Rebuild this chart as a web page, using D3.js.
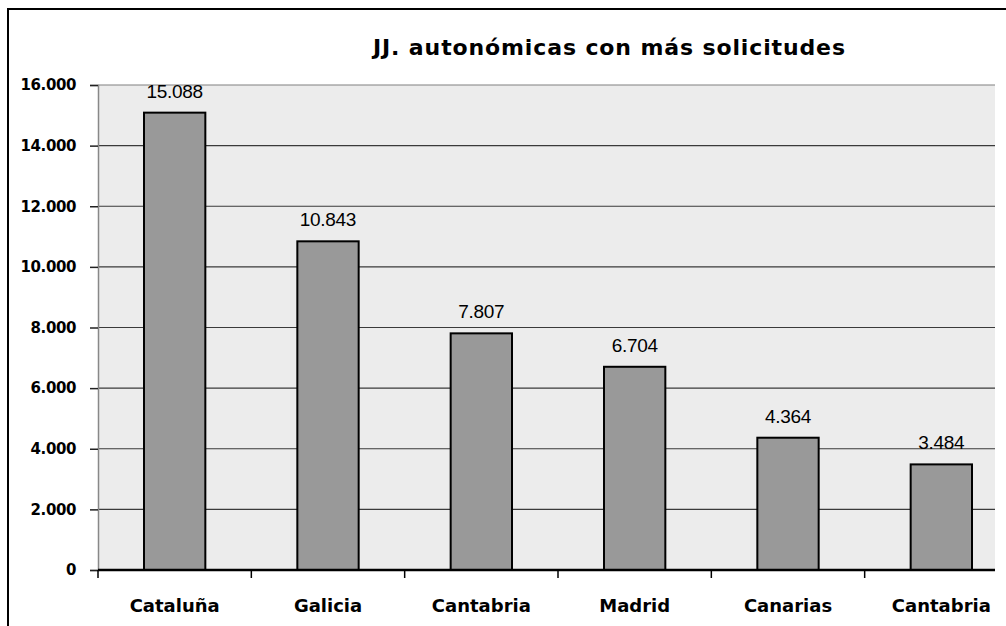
<!DOCTYPE html>
<html>
<head>
<meta charset="utf-8">
<script src="https://cdn.jsdelivr.net/npm/d3@7"></script>
<style>
body { margin: 0; background: #fff; }
svg { display: block; font-family: "DejaVu Sans", Arial, sans-serif; }
</style>
</head>
<body>
<div id="chart"></div>
<script>
var categories = ["Cataluña", "Galicia", "Cantabria", "Madrid", "Canarias", "Cantabria "]
var values = [15088, 10843, 7807, 6704, 4364, 3484]
var yTicks = [0, 2000, 4000, 6000, 8000, 10000, 12000, 14000, 16000]
var title = "JJ. autonómicas con más solicitudes"

var w = 1006
var h = 626
// plot runs past the right edge, the picture is cropped there
var margin = {top: 85, left: 98, bottom: 56}
var plotRight = 1018
var visibleRight = 995
var height = h - margin.top - margin.bottom

var es = d3.formatLocale({decimal: ",", thousands: ".", grouping: [3], currency: ["", "€"]})
var fmt = es.format(",d")

var svg = d3.select("#chart").append("svg")
  .attr("width", w)
  .attr("height", h)

// outer frame
svg.append("rect")
  .attr("x", 8).attr("y", 9)
  .attr("width", 995 + 20).attr("height", h)
  .attr("fill", "none")
  .attr("stroke", "#000")
  .attr("stroke-width", 2)

svg.append("text")
  .attr("x", 609).attr("y", 55)
  .attr("text-anchor", "middle")
  .attr("font-size", 22)
  .attr("font-weight", "bold")
  .attr("textLength", 472)
  .attr("lengthAdjust", "spacing")
  .text(title)

var g = svg.append("g")
  .attr("transform", "translate(" + margin.left + "," + margin.top + ")")

var xScale = d3.scaleBand()
  .domain(categories)
  .range([0, plotRight - margin.left])
  .paddingInner(0.6)
  .paddingOuter(0.3)

var xTickScale = d3.scaleBand()
  .domain(categories)
  .range([0, plotRight - margin.left])

var yScale = d3.scaleLinear()
  .domain([0, 16000])
  .range([height, 0])

g.append("rect")
  .attr("width", visibleRight - margin.left)
  .attr("height", height)
  .attr("fill", "#ececec")

g.selectAll(".grid").data(yTicks.slice(1))
  .enter().append("line")
  .attr("class", "grid")
  .attr("x1", 0).attr("x2", visibleRight - margin.left)
  .attr("y1", d => yScale(d)).attr("y2", d => yScale(d))
  .attr("stroke", d => d == 16000 ? "#808080" : "#3a3a3a")
  .attr("stroke-width", 1.2)

// y axis
var yAxis = g.append("g")
  .call(d3.axisLeft(yScale).tickValues(yTicks).tickFormat(fmt).tickSize(8).tickPadding(14))
yAxis.select(".domain").attr("stroke", "#888").attr("stroke-width", 1.5)
yAxis.selectAll(".tick line").attr("stroke", "#222").attr("stroke-width", 1.5)
yAxis.selectAll(".tick text")
  .attr("font-size", 15)
  .attr("font-weight", "bold")
  .attr("letter-spacing", -0.4)
  .attr("fill", "#000")
  .attr("font-family", "DejaVu Sans, Arial, sans-serif")

var clip = svg.append("defs").append("clipPath").attr("id", "clip")
clip.append("rect").attr("x", -10).attr("y", -60).attr("width", visibleRight - margin.left + 10).attr("height", height + 200)

var bars = g.append("g").attr("clip-path", "url(#clip)")

bars.selectAll(".bar").data(values)
  .enter().append("rect")
  .attr("class", "bar")
  .attr("x", (d, i) => xScale(categories[i]))
  .attr("y", d => yScale(d))
  .attr("width", xScale.bandwidth())
  .attr("height", d => height - yScale(d))
  .attr("fill", "#999999")
  .attr("stroke", "#000")
  .attr("stroke-width", 2)

bars.selectAll(".val").data(values)
  .enter().append("text")
  .attr("class", "val")
  .attr("x", (d, i) => xScale(categories[i]) + xScale.bandwidth() / 2)
  .attr("y", d => yScale(d) - 15)
  .attr("text-anchor", "middle")
  .attr("font-family", "Liberation Sans, Arial, sans-serif")
  .attr("font-size", 19)
  .attr("letter-spacing", -0.3)
  .text(d => fmt(d))

// x axis
var xAxis = g.append("g")
  .attr("transform", "translate(0," + height + ")")
xAxis.append("line")
  .attr("x1", 0).attr("x2", visibleRight - margin.left)
  .attr("stroke", "#000").attr("stroke-width", 2.5)
xAxis.selectAll(".xt").data(categories)
  .enter().append("line")
  .attr("class", "xt")
  .attr("x1", d => xTickScale(d)).attr("x2", d => xTickScale(d))
  .attr("y1", 0).attr("y2", 8)
  .attr("stroke", "#000").attr("stroke-width", 1.5)
xAxis.selectAll(".xl").data(categories)
  .enter().append("text")
  .attr("class", "xl")
  .attr("x", d => xTickScale(d) + xTickScale.bandwidth() / 2)
  .attr("y", 42)
  .attr("text-anchor", "middle")
  .attr("font-size", 18)
  .attr("font-weight", "bold")
  .text(d => d.trim())
</script>
</body>
</html>
